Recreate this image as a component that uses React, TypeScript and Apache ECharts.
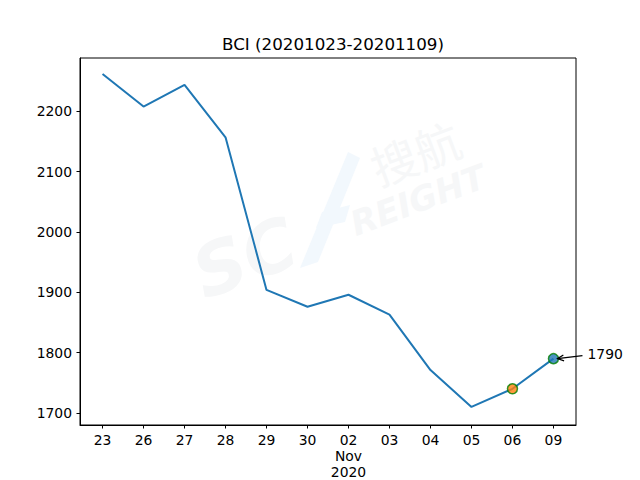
import React, { useEffect, useRef } from "react";
import * as echarts from "echarts";

const dayLabels = ["23", "26", "27", "28", "29", "30", "02\nNov\n2020", "03", "04", "05", "06", "09"];
const bciValues = [2262, 2208, 2244, 2157, 1904, 1876, 1896, 1863, 1771, 1710, 1740, 1790];
const yTicks = [1700, 1800, 1900, 2000, 2100, 2200];
const highlightPrev = 10;
const highlightLast = 11;
const titleText = "BCI (20201023-20201109)";

export default function App() {
  const ref = useRef<HTMLDivElement>(null);
  useEffect(() => {
    if (!ref.current) return;
    const chart = echarts.init(ref.current, null, { renderer: "svg" });
    const font = "DejaVu Sans";
    const xIdx = dayLabels.map((_, i) => i);
    const option: any = {
      animation: false,
      backgroundColor: "#ffffff",
      title: {
        text: titleText,
        left: 328,
        textAlign: "center",
        top: 30,
        textStyle: { fontFamily: font, fontSize: 16.7, fontWeight: "normal", color: "#000" },
      },
      grid: {
        left: 80,
        right: 64,
        top: 58,
        bottom: 53,
        show: true,
        borderColor: "#000",
        borderWidth: 1,
        backgroundColor: "transparent",
      },
      xAxis: {
        type: "value",
        min: -0.55,
        max: 11.55,
        splitLine: { show: false },
        axisLine: { show: true, onZero: false, lineStyle: { color: "#000", width: 1 } },
        axisTick: { show: true, length: 3.5, lineStyle: { color: "#000" }, customValues: xIdx },
        axisLabel: {
          customValues: xIdx,
          formatter: (v: number) => dayLabels[Math.round(v)],
          fontFamily: font,
          fontSize: 13.9,
          color: "#000",
          margin: 7,
          lineHeight: 16,
        },
      },
      yAxis: {
        type: "value",
        min: 1680,
        max: 2288.5,
        splitLine: { show: false },
        axisLine: { show: true, onZero: false, lineStyle: { color: "#000", width: 1 } },
        axisTick: { show: true, length: 3.5, lineStyle: { color: "#000" }, customValues: yTicks },
        axisLabel: {
          customValues: yTicks,
          formatter: (v: number) => String(v),
          fontFamily: font,
          fontSize: 13.9,
          color: "#000",
          margin: 8,
        },
      },
      series: [
        {
          type: "line",
          data: bciValues.map((v, i) => [i, v]),
          showSymbol: false,
          symbol: "none",
          lineStyle: { color: "#1f77b4", width: 2 },
          z: 3,
        },
        {
          type: "scatter",
          data: [
            { value: [highlightPrev, bciValues[highlightPrev]], itemStyle: { color: "#ff7f0e" } },
            { value: [highlightLast, bciValues[highlightLast]], itemStyle: { color: "#1f77b4" } },
          ],
          symbolSize: 10,
          itemStyle: { borderColor: "#008000", borderWidth: 1.5 },
          z: 4,
        },
      ],
    };
    chart.setOption(option);

    const p = chart.convertToPixel({ gridIndex: 0 }, [highlightLast, bciValues[highlightLast]]) as number[];
    const tx = p[0] + 34;
    const ty = p[1] - 5;
    const ax0 = tx - 5;
    const ay0 = ty + 2;
    const ex = p[0] + 4;
    const ey = p[1];
    const ang = Math.atan2(ey - ay0, ex - ax0);
    const hl = 7;
    const hw = 0.45;
    const h1 = [ex - hl * Math.cos(ang - hw), ey - hl * Math.sin(ang - hw)];
    const h2 = [ex - hl * Math.cos(ang + hw), ey - hl * Math.sin(ang + hw)];
    const wmGray = "#f6f7f8";
    const wmBlue = "#f2f8fd";
    chart.setOption({
      graphic: [
        {
          type: "text",
          x: 415,
          y: 152,
          rotation: 0.36,
          z: -10,
          style: { text: "搜航", fontFamily: "Noto Sans CJK SC", fontSize: 46, fill: wmGray, align: "center", verticalAlign: "middle" },
          silent: true,
        },
        {
          type: "text",
          x: 418,
          y: 200,
          rotation: 0.36,
          z: -10,
          style: { text: "REIGHT", fontFamily: font, fontStyle: "italic", fontWeight: "bold", fontSize: 34, fill: wmGray, align: "center", verticalAlign: "middle" },
          silent: true,
        },
        {
          type: "text",
          x: 245,
          y: 258,
          rotation: 0.36,
          z: -10,
          style: { text: "SC", fontFamily: font, fontStyle: "italic", fontWeight: "bold", fontSize: 72, fill: wmGray, align: "center", verticalAlign: "middle" },
          silent: true,
        },
        {
          type: "polygon",
          z: -10,
          silent: true,
          shape: { points: [[348, 152], [360, 158], [318, 262], [300, 268]] },
          style: { fill: wmBlue },
        },
        {
          type: "polygon",
          z: -10,
          silent: true,
          shape: { points: [[322, 212], [350, 205], [345, 222], [316, 228]] },
          style: { fill: wmBlue },
        },
        {
          type: "text",
          x: tx,
          y: ty,
          z: 10,
          style: { text: String(bciValues[highlightLast]), fontFamily: font, fontSize: 13.9, fill: "#000", align: "left", verticalAlign: "middle" },
        },
        {
          type: "line",
          z: 10,
          shape: { x1: ax0, y1: ay0, x2: ex, y2: ey },
          style: { stroke: "#000", lineWidth: 1.2 },
        },
        {
          type: "polyline",
          z: 10,
          shape: { points: [h1, [ex, ey], h2] },
          style: { stroke: "#000", lineWidth: 1.2, fill: null },
        },
      ],
    });
    return () => chart.dispose();
  }, []);
  return <div ref={ref} style={{ width: 640, height: 480, position: "absolute", left: 0, top: 0 }} />;
}
